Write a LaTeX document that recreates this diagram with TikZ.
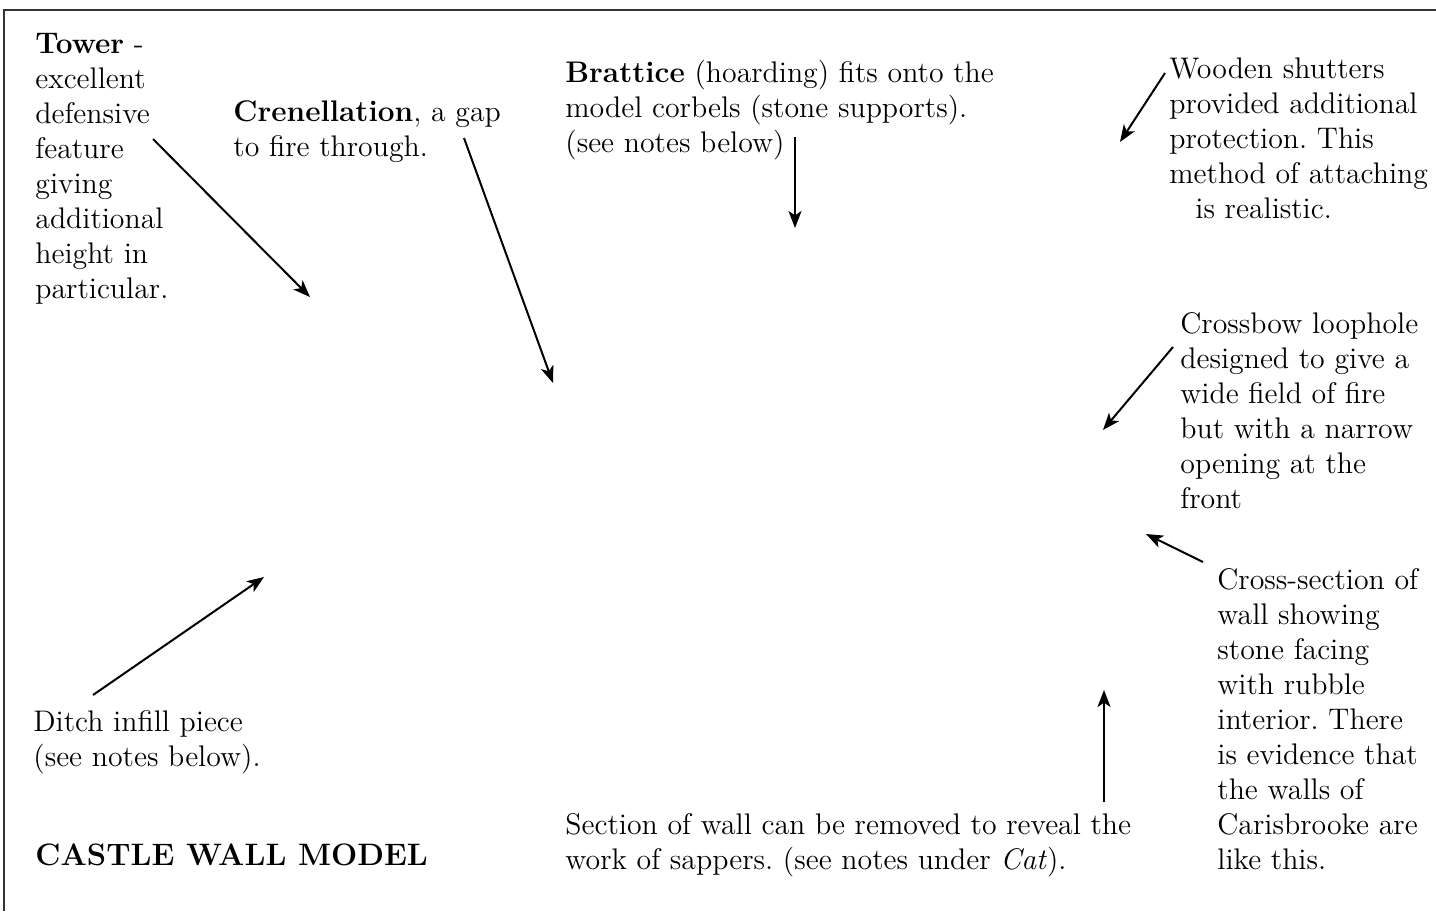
\documentclass[tikz,border=0pt]{standalone}
\usetikzlibrary{arrows.meta}
\newcommand{\notefont}{\fontsize{14.9}{17.5}\selectfont\frenchspacing}

\begin{document}
\begin{tikzpicture}[x=0.5pt,y=-0.5pt,
    note/.style={anchor=north west,inner sep=0pt,align=left,font=\notefont},
    callout/.style={-{Stealth[length=8.5pt,width=6.5pt,inset=2.2pt]},line width=1pt}]
    \useasboundingbox (0,0) rectangle (1436,911);
    \draw[line width=0.8pt,black!80] (1436,10) -- (4,10) -- (4,911);

    % labels
    \node[note] (tower) at (35,33) {\textbf{Tower} -\\excellent\\defensive\\feature\\giving\\additional\\height in\\particular.};
    \node[note] (cren) at (233,100) {\textbf{Crenellation}, a gap\\to fire through.};
    \node[note] (bratt) at (565,60) {\textbf{Brattice} (hoarding) fits onto the\\model corbels (stone supports).\\(see notes below)};
    \node[note] (wood) at (1169,57) {Wooden shutters\\provided additional\\protection. This\\method of attaching\\\hspace*{13pt}is realistic.};
    \node[note] (bow) at (1180,312) {Crossbow loophole\\designed to give a\\wide field of fire\\but with a narrow\\opening at the\\front};
    \node[note] (xsec) at (1217,568) {Cross-section of\\wall showing\\stone facing\\with rubble\\interior. There\\is evidence that\\the walls of\\Carisbrooke are\\like this.};
    \node[note] (ditch) at (33,710) {Ditch infill piece\\(see notes below).};
    \node[note] (sect) at (565,813) {Section of wall can be removed to reveal the\\work of sappers. (see notes under \textit{Cat}).};
    \node[anchor=base west,inner sep=0pt,font=\fontsize{15.5}{18}\selectfont\bfseries] (title) at (35,865) {CASTLE WALL MODEL};

    % arrow ends
    \coordinate (towerA) at (153,139);  \coordinate (towerB) at (310,297);
    \coordinate (crenA) at (464,138);   \coordinate (crenB) at (553,383);
    \coordinate (brattA) at (795,137);  \coordinate (brattB) at (795,228);
    \coordinate (woodA) at (1165,73);   \coordinate (woodB) at (1120,142);
    \coordinate (bowA) at (1173,347);   \coordinate (bowB) at (1103,430);
    \coordinate (xsecA) at (1203,562);  \coordinate (xsecB) at (1146,534);
    \coordinate (sectA) at (1104,802);  \coordinate (sectB) at (1104,690);
    \coordinate (ditchA) at (93,695);   \coordinate (ditchB) at (264,577);

    % arrows
    \draw[callout] (towerA) -- (towerB);
    \draw[callout] (crenA) -- (crenB);
    \draw[callout] (brattA) -- (brattB);
    \draw[callout] (woodA) -- (woodB);
    \draw[callout] (bowA) -- (bowB);
    \draw[callout] (xsecA) -- (xsecB);
    \draw[callout] (sectA) -- (sectB);
    \draw[callout] (ditchA) -- (ditchB);
\end{tikzpicture}
\end{document}
